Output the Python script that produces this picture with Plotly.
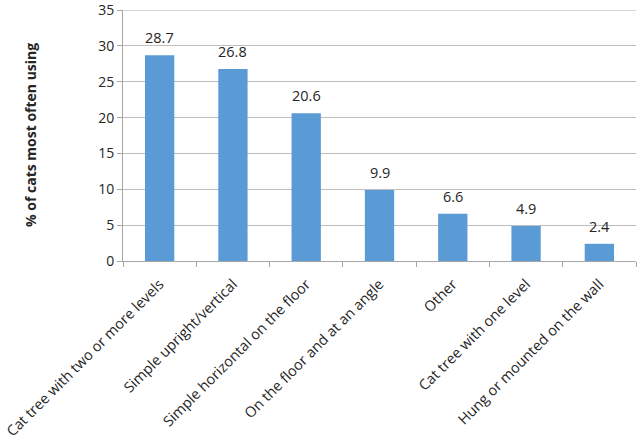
import plotly.graph_objects as go

categories = ["Cat tree with two or more levels", "Simple upright/vertical",
              "Simple horizontal on the floor", "On the floor and at an angle",
              "Other", "Cat tree with one level", "Hung or mounted on the wall"]
values = [28.7, 26.8, 20.6, 9.9, 6.6, 4.9, 2.4]
y_ticks = [0, 5, 10, 15, 20, 25, 30, 35]

font_family = "Open Sans, Liberation Sans, sans-serif"
text_color = "#262626"
grid_color = "#BEBEBE"

fig = go.Figure(go.Bar(
    x=categories, y=values,
    marker=dict(color="#5B9BD5", line=dict(width=0)),
    width=0.4,
    hoverinfo="x+y",
))

value_labels = [dict(
    x=c, y=v, xref="x", yref="y", text=f"{v:.1f}", showarrow=False,
    xanchor="center", yanchor="bottom", yshift=6,
    font=dict(size=14.5, color=text_color, family=font_family),
) for c, v in zip(categories, values)]

fig.update_layout(
    width=640, height=440,
    margin=dict(l=123, r=4, t=10, b=179),
    plot_bgcolor="white", paper_bgcolor="white",
    showlegend=False,
    font=dict(family=font_family, size=14, color=text_color),
    bargap=0.6,
    annotations=value_labels + [dict(
        text="<b>% of cats most often using</b>", textangle=-90,
        xref="paper", yref="paper", x=(30 - 123) / 513, y=(261 - 135) / 251,
        xanchor="center", yanchor="middle", showarrow=False,
        font=dict(size=14, color=text_color, family=font_family),
    )],
    shapes=[dict(type="line", xref="paper", x0=0, x1=1, yref="y",
                 y0=y_ticks[-1], y1=y_ticks[-1], layer="below",
                 line=dict(color=grid_color, width=1))],
)
fig.update_xaxes(
    tickangle=-45, showline=True, linecolor="#A6A6A6", linewidth=1,
    ticks="outside", tickcolor="#A6A6A6", ticklen=5,
    tickson="boundaries", showgrid=False, automargin=False,
    ticklabelstandoff=8,
    tickfont=dict(size=14.5, color=text_color),
)
fig.update_yaxes(
    range=[0, 35.02], tickvals=y_ticks,
    showline=True, linecolor="#A6A6A6", linewidth=1,
    ticks="outside", tickcolor="#A6A6A6", ticklen=5,
    gridcolor=grid_color, gridwidth=1, zeroline=False, automargin=False,
    tickfont=dict(size=14, color=text_color),
)

fig.write_html("out.html", config={"displayModeBar": False},
               post_script="document.body.style.margin='0';")
